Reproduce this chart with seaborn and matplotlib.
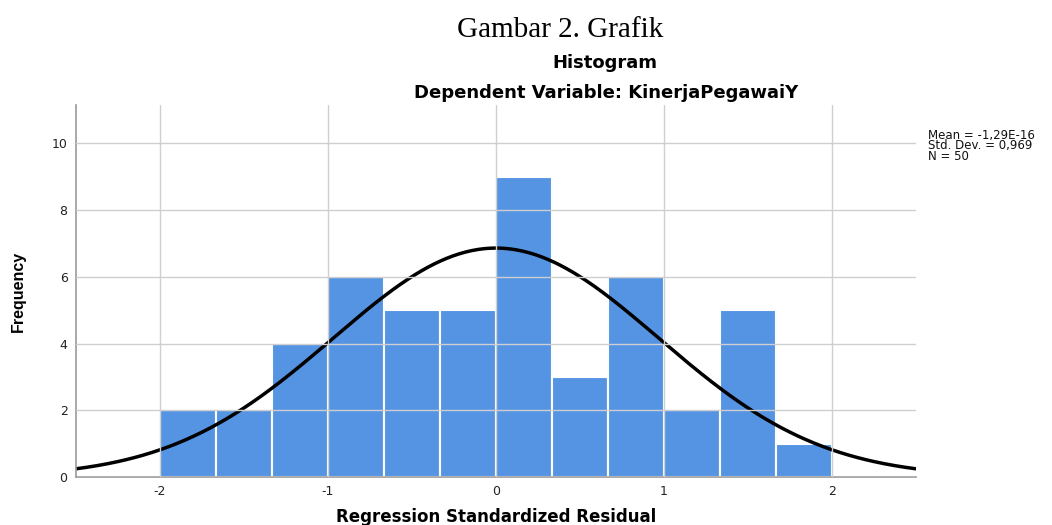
import numpy as np
import pandas as pd
import matplotlib
matplotlib.use('Agg')
import matplotlib.pyplot as plt
import seaborn as sns

# data
bin_edges = [-2.0, -5/3, -4/3, -1.0, -2/3, -1/3, 0.0, 1/3, 2/3, 1.0, 4/3, 5/3, 2.0]
counts = [2, 2, 4, 6, 5, 5, 9, 3, 6, 2, 5, 1]
mean_val = -1.29e-16
std_dev = 0.969
n_obs = 50
x_ticks = [-2, -1, 0, 1, 2]
y_ticks = [0, 2, 4, 6, 8, 10]

sns.set_theme(style='white')
plt.rcParams['font.family'] = ['DejaVu Sans']

centers = [(a + b) / 2 for a, b in zip(bin_edges[:-1], bin_edges[1:])]
df = pd.DataFrame({'resid': centers, 'freq': counts})

fig = plt.figure(figsize=(10.52, 5.25), dpi=100)
ax = fig.add_axes([0.0722, 0.0914, 0.7985, 0.7086])

sns.histplot(data=df, x='resid', weights='freq', bins=bin_edges, ax=ax,
             color='#5594E3', alpha=1, edgecolor='white', linewidth=1.5)

# kurva normal
xs = np.linspace(-2.5, 2.5, 400)
bw = bin_edges[1] - bin_edges[0]
ys = n_obs * bw * np.exp(-0.5 * ((xs - mean_val) / std_dev) ** 2) / (std_dev * np.sqrt(2 * np.pi))
sns.lineplot(x=xs, y=ys, ax=ax, color='black', linewidth=2.5)

ax.set_xlim(-2.5, 2.5)
ax.set_ylim(0, 11.15)
ax.set_xticks(x_ticks)
ax.set_xticklabels([str(t) for t in x_ticks])
ax.set_yticks(y_ticks)
ax.tick_params(length=0, labelsize=9, colors='#222222', pad=6)
ax.grid(True, color='#cfcfcf', linewidth=1)
ax.set_axisbelow(False)
for s in ['top', 'right']:
    ax.spines[s].set_visible(False)
for s in ['left', 'bottom']:
    ax.spines[s].set_color('#999999')
    ax.spines[s].set_linewidth(1.2)

ax.set_xlabel('Regression Standardized Residual', fontsize=12, fontweight='bold', color='black')
ax.xaxis.set_label_coords(0.5, -0.083)
ax.set_ylabel('Frequency', fontsize=11.5, fontweight='bold',
              family=['Liberation Sans', 'DejaVu Sans'], color='black')
ax.yaxis.set_label_coords(-0.0595, 0.5)

fig.text(0.532, 0.943, 'Gambar 2. Grafik', ha='center', va='center', color='black',
         fontsize=21, family=['Liberation Serif', 'DejaVu Serif'])
fig.text(0.575, 0.88, 'Histogram', ha='center', va='center', fontsize=13,
         fontweight='bold', color='black')
fig.text(0.576, 0.823, 'Dependent Variable: KinerjaPegawaiY', ha='center', va='center',
         fontsize=13, fontweight='bold', color='black')
fig.text(0.882, 0.755, 'Mean = -1,29E-16\nStd. Dev. = 0,969\nN = 50', ha='left', va='top',
         fontsize=8.5, linespacing=0.75, color='#111111')

fig.savefig('out.png', dpi=100)
